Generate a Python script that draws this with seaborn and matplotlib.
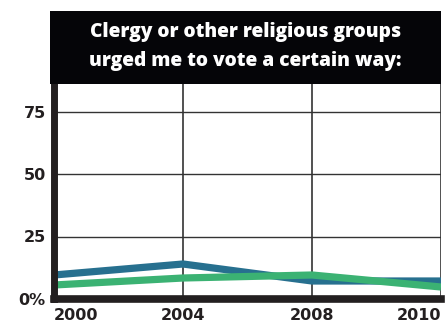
import matplotlib
matplotlib.use("Agg")
import matplotlib.pyplot as plt
import seaborn as sns
import pandas as pd
from matplotlib.patches import Rectangle

years = ["2000", "2004", "2008", "2010"]
series_a = [9.6, 14.0, 7.2, 7.2]   # blue
series_b = [5.6, 8.4, 9.6, 4.8]    # green
y_ticks = [0, 25, 50, 75]
y_tick_labels = ["0%", "25", "50", "75"]
title = "Clergy or other religious groups\nurged me to vote a certain way:"

df = pd.DataFrame({
    "year": years * 2,
    "value": series_a + series_b,
    "series": ["a"] * len(years) + ["b"] * len(years),
})

sns.set_style("white")
W, H = 446, 323
fig = plt.figure(figsize=(W / 100, H / 100), dpi=100)
ax = fig.add_axes([54 / W, (H - 299) / H, (441 - 54) / W, (299 - 84) / H])

sns.lineplot(data=df, x="year", y="value", hue="series",
             palette={"a": "#27708f", "b": "#3bb273"},
             linewidth=5.2, ax=ax, legend=False, sort=False)
for l in ax.lines:
    l.set_solid_capstyle("butt")
    l.set_solid_joinstyle("miter")

ax.set_xlim(0, len(years) - 1)
ax.set_ylim(0, 86)
ax.set_xlabel("")
ax.set_ylabel("")

ax.set_yticks(y_ticks)
ax.set_yticklabels(y_tick_labels)
ax.set_xticks(range(len(years)))
ax.set_xticklabels(years)

for y in y_ticks[1:]:
    ax.axhline(y, color="#333333", lw=1.0, zorder=0.5)
for i in range(1, len(years)):
    ax.axvline(i, color="#333333", lw=1.2, zorder=0.5)

for s in ["top", "right"]:
    ax.spines[s].set_visible(False)
ax.spines["left"].set_linewidth(5.0)
ax.spines["left"].set_color("#231f20")
ax.spines["bottom"].set_linewidth(5.5)
ax.spines["bottom"].set_color("#231f20")
ax.spines["bottom"].set_zorder(5)
ax.spines["left"].set_zorder(5)

ax.tick_params(axis="both", length=0, labelsize=11.5)
ax.tick_params(axis="y", pad=6)
ax.tick_params(axis="x", pad=6.5)
for t in ax.get_yticklabels() + ax.get_xticklabels():
    t.set_fontweight("heavy")
    t.set_family("DejaVu Sans")
    t.set_color("#231f20")
xl = ax.get_xticklabels()
xl[0].set_ha("left")
xl[0].set_x(-0.06)
xl[-1].set_ha("right")

fig.patches.append(Rectangle((50 / W, (H - 84) / H), (441 - 50) / W, (84 - 11) / H,
                             transform=fig.transFigure, facecolor="#050508",
                             edgecolor="none", zorder=0))
fig.text((50 + 441) / 2 / W, (H - 46.5) / H, title, ha="center", va="center",
         color="white", fontsize=13.8, fontweight="heavy", family="Open Sans",
         linespacing=1.65)

fig.savefig("out.png", dpi=100)
